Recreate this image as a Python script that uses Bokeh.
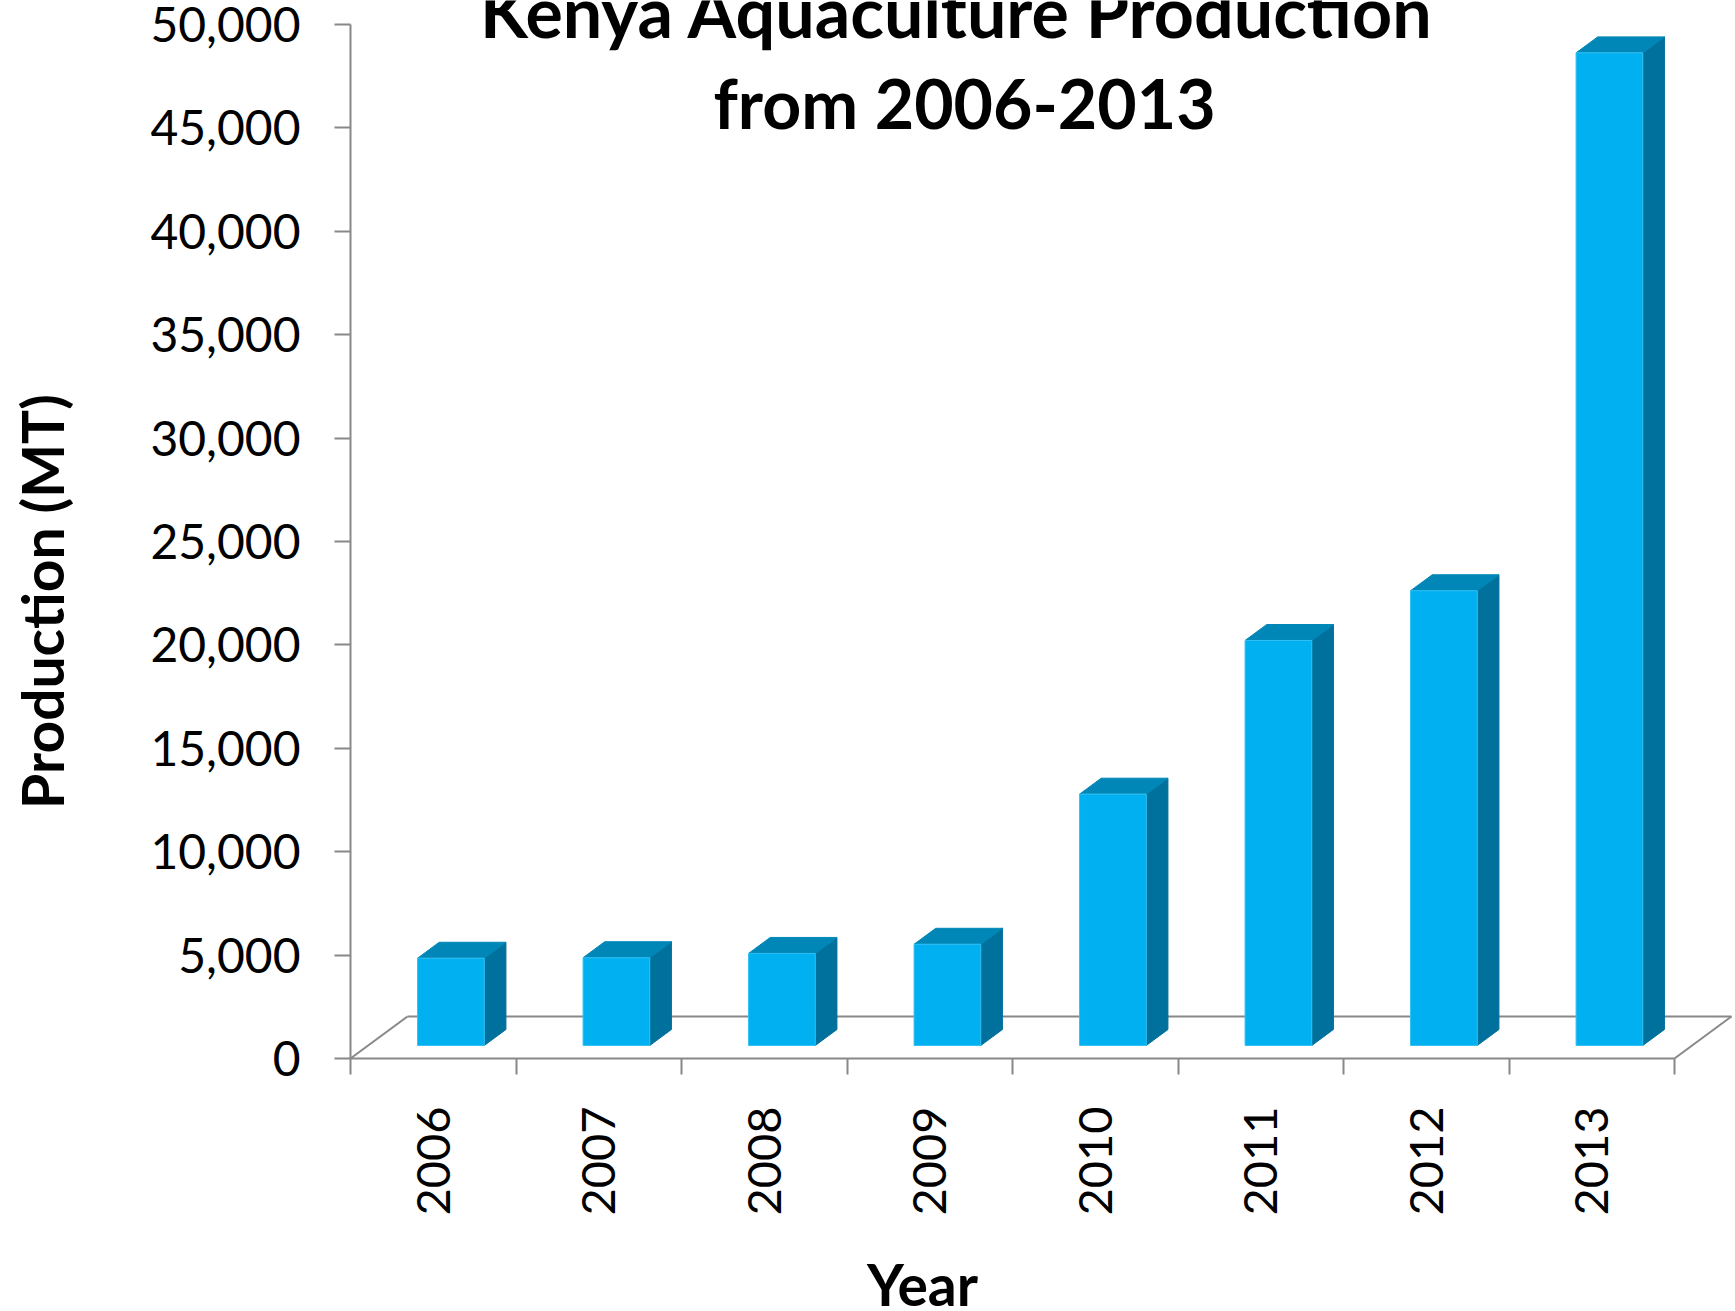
import math
from bokeh.plotting import figure
from bokeh.models import (Range1d, FixedTicker, NumeralTickFormatter, CustomJSTickFormatter, Label)
from bokeh.embed import file_html
from bokeh.resources import INLINE

# ---------------- data ----------------
years = ["2006", "2007", "2008", "2009", "2010", "2011", "2012", "2013"]
production = [4220, 4245, 4452, 4895, 12154, 19584, 21990, 48000]
y_ticks = [0, 5000, 10000, 15000, 20000, 25000, 30000, 35000, 40000, 45000, 50000]
title_lines = ["Kenya  Aquaculture Production", "from 2006-2013"]
x_title = "Year"
y_title = "Production (MT)"

# ---------------- layout constants (pixels) ----------------
W, H = 1732, 1308
ORIGIN_X, ORIGIN_Y = 350, 1058       # canvas pixel of (x=0, y=0)
PX_PER_CAT = 165.5
PX_PER_UNIT = 103.4 / 5000.0
FLOOR_DX_PX, FLOOR_DY_PX = 57, 42
FACE_W_PX = 66.7
n = len(years)

floor_dx = FLOOR_DX_PX / PX_PER_CAT
floor_dy = FLOOR_DY_PX / PX_PER_UNIT
face_w = FACE_W_PX / PX_PER_CAT
front_frac, depth_frac = 0.31, 0.38

AXIS_GRAY = "#888888"
FRONT, TOP, SIDE = "#00B0F0", "#0087B7", "#00709C"


def dx(px):
    """canvas pixel x -> data x"""
    return (px - ORIGIN_X) / PX_PER_CAT


def dy(py):
    """canvas pixel y (from top) -> data y"""
    return (ORIGIN_Y - py) / PX_PER_UNIT


p = figure(width=W, height=H, output_backend="svg", toolbar_location=None,
           x_range=Range1d(dx(0), dx(W)), y_range=Range1d(dy(H), dy(0)),
           min_border_left=0, min_border_right=0, min_border_top=0,
           min_border_bottom=0, title=None)
p.outline_line_color = None
p.xgrid.visible = False
p.ygrid.visible = False
p.background_fill_color = "white"
p.border_fill_color = "white"

# ---------------- floor ----------------
x_end = n + floor_dx
p.line([floor_dx, x_end], [floor_dy, floor_dy], line_color=AXIS_GRAY, line_width=2)
p.line([0, floor_dx], [0, floor_dy], line_color=AXIS_GRAY, line_width=2)
p.line([n, x_end], [0, floor_dy], line_color=AXIS_GRAY, line_width=2)

# ---------------- 3D bars ----------------
shift_x = front_frac * floor_dx
base_y = front_frac * floor_dy
ddx = depth_frac * floor_dx
ddy = depth_frac * floor_dy

lefts = [i + 0.5 - face_w / 2 + shift_x for i in range(n)]
rights = [l + face_w for l in lefts]
tops = [base_y + v for v in production]

top_xs = [[l, r, r + ddx, l + ddx] for l, r in zip(lefts, rights)]
top_ys = [[t, t, t + ddy, t + ddy] for t in tops]
side_xs = [[r, r + ddx, r + ddx, r] for r in rights]
side_ys = [[base_y, base_y + ddy, t + ddy, t] for t in tops]

p.patches(side_xs, side_ys, fill_color=SIDE, line_color=SIDE, line_width=1)
p.patches(top_xs, top_ys, fill_color=TOP, line_color=TOP, line_width=1)
p.quad(left=lefts, right=rights, bottom=[base_y] * n, top=tops,
       fill_color=FRONT, line_color="#33C0F3", line_width=1)

# ---------------- axes ----------------
yax = p.yaxis[0]
yax.fixed_location = 0
yax.ticker = FixedTicker(ticks=y_ticks)
yax.formatter = NumeralTickFormatter(format="0,0")
yax.bounds = (0, y_ticks[-1])
yax.axis_line_color = AXIS_GRAY
yax.axis_line_width = 2
yax.major_tick_line_color = AXIS_GRAY
yax.major_tick_line_width = 2
yax.major_tick_out = 16
yax.major_tick_in = 0
yax.minor_tick_line_color = None
yax.major_label_standoff = 34
yax.major_label_text_font = "Lato"
yax.major_label_text_font_size = "48px"
yax.major_label_text_color = "black"

xax = p.xaxis[0]
xax.fixed_location = 0
centers = [i + 0.5 for i in range(n)]
xax.ticker = FixedTicker(ticks=centers, minor_ticks=list(range(n + 1)))
xax.formatter = CustomJSTickFormatter(args=dict(years=years),
                                      code="return years[Math.round(tick - 0.5)];")
xax.bounds = (0, n)
xax.axis_line_color = AXIS_GRAY
xax.axis_line_width = 2
xax.major_tick_line_color = None
xax.major_tick_out = 0
xax.major_tick_in = 0
xax.minor_tick_line_color = AXIS_GRAY
xax.minor_tick_line_width = 2
xax.minor_tick_out = 16
xax.minor_tick_in = 0
xax.major_label_orientation = math.pi / 2
xax.major_label_standoff = 32
xax.major_label_text_font = "Lato"
xax.major_label_text_font_size = "47px"
xax.major_label_text_color = "black"

# ---------------- titles ----------------
p.add_layout(Label(x=dx(965), y=dy(10), text=title_lines[0], text_font="Lato",
                   text_font_style="bold", text_font_size="70px", text_align="center",
                   text_baseline="middle", text_color="black"))
p.add_layout(Label(x=dx(964), y=dy(102), text=title_lines[1], text_font="Lato",
                   text_font_style="bold", text_font_size="68px", text_align="center",
                   text_baseline="middle", text_color="black"))
p.add_layout(Label(x=dx(922), y=dy(1283), text=x_title, text_font="Lato",
                   text_font_style="bold", text_font_size="57px", text_align="center",
                   text_baseline="middle", text_color="black"))
p.add_layout(Label(x=dx(41), y=dy(601), text=y_title, text_font="Lato",
                   text_font_style="bold", text_font_size="57px", text_align="center",
                   text_baseline="middle", angle=math.pi / 2, text_color="black"))

open("out.html", "w").write(file_html(p, INLINE))
